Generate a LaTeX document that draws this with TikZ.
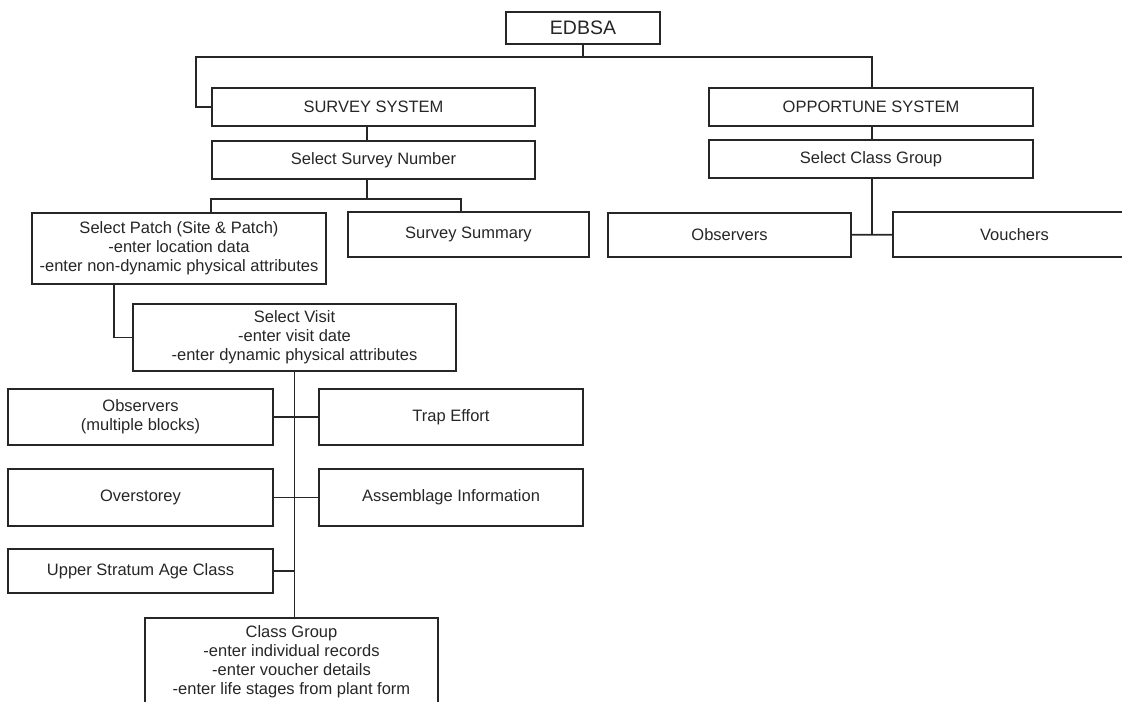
\documentclass[tikz,border=0pt]{standalone}
\usepackage{fontspec}
\setmainfont{Liberation Sans}
\usetikzlibrary{positioning}
\tikzset{unit/.style={rectangle,draw=black!85,line width=0.8pt,inner sep=0pt,
align=center, text=black!85, font=\fontsize{8.25}{9.5}\selectfont},
head/.style={unit,font=\fontsize{9.75}{11}\selectfont},
sys/.style={unit,minimum width=161.5pt,minimum height=19pt},
leaf/.style={unit,minimum width=132.5pt,minimum height=28pt},
link/.style={draw=black!85, line width=0.8pt}}

\begin{document}
\begin{tikzpicture}[x=0.5pt,y=-0.5pt]
  \useasboundingbox (0,0) rectangle (1122,701);
  \node (edbsa) [head,minimum width=77pt,minimum height=16pt] at (583,28) {EDBSA};
  \node (survey) [sys] at (373.5,107) {SURVEY SYSTEM};
  \node (surnum) [sys] at (373.5,160) {Select Survey Number};
  \node (opp) [sys,minimum width=162pt] at (871,107) {OPPORTUNE SYSTEM};
  \node (clsel) [sys,minimum width=162pt] at (871,159) {Select Class Group};
  \node (patch) [unit,minimum width=147pt,minimum height=35.5pt] at (179,248.5)
    {Select Patch (Site \& Patch)\\-enter location data\\-enter non-dynamic physical attributes};
  \node (summ) [unit,minimum width=120.5pt,minimum height=22.5pt] at (468.5,234.5) {Survey Summary};
  \node (obsr) [unit,minimum width=121.5pt,minimum height=22pt] at (729.5,235) {Observers};
  \node (vouch) [unit,minimum width=121.5pt,minimum height=22.5pt] at (1014.5,234.5) {Vouchers};
  \node (visit) [unit,minimum width=161.5pt,minimum height=33.5pt] at (294.5,337.5)
    {Select Visit\\-enter visit date\\-enter dynamic physical attributes};
  \node (obs) [leaf] at (140.5,417) {Observers\\(multiple blocks)};
  \node (trap) [leaf,minimum width=132pt] at (451,417) {Trap Effort};
  \node (over) [leaf,minimum height=28.5pt] at (140.5,497.5) {Overstorey};
  \node (assem) [leaf,minimum width=132pt,minimum height=28.5pt] at (451,497.5) {Assemblage Information};
  \node (upper) [leaf,minimum height=22pt] at (140.5,571) {Upper Stratum Age Class};
  \node (clgrp) [unit,minimum width=146.5pt,minimum height=43.5pt] at (291.5,661.5)
    {Class Group\\-enter individual records\\-enter voucher details\\-enter life stages from plant form};
  % joints of the tree
  \coordinate (tl) at (196,57);
  \coordinate (tr) at (872,57);
  \coordinate (ja) at (367,199);
  \coordinate (jl) at (211,199);
  \coordinate (jr) at (461,199);
  \coordinate (jp) at (114,337);
  \coordinate (jo) at (872,234);
  \draw [link] (edbsa) -- (edbsa |- tl);
  \draw [link] (survey.west) -| (tl) -- (tr) -- (tr |- opp.north);
  \draw [link] (survey.south -| ja) -- (surnum.north -| ja);
  \draw [link] (surnum.south -| ja) -- (ja);
  \draw [link] (jl |- patch.north) -- (jl) -- (jr) -- (jr |- summ.north);
  \draw [link] (patch.south -| jp) |- (visit.west);
  \draw [link] (visit.south) -- (visit.south |- clgrp.north);
  \draw [link] (obs) -- (trap);
  \draw [link] (over) -- (assem);
  \draw [link] (upper.east) -- (upper.east -| visit.south);
  \draw [link] (opp.south -| jo) -- (clsel.north -| jo);
  \draw [link] (clsel.south -| jo) -- (jo);
  \draw [link] (obsr) -- (vouch);
\end{tikzpicture}
\end{document}
